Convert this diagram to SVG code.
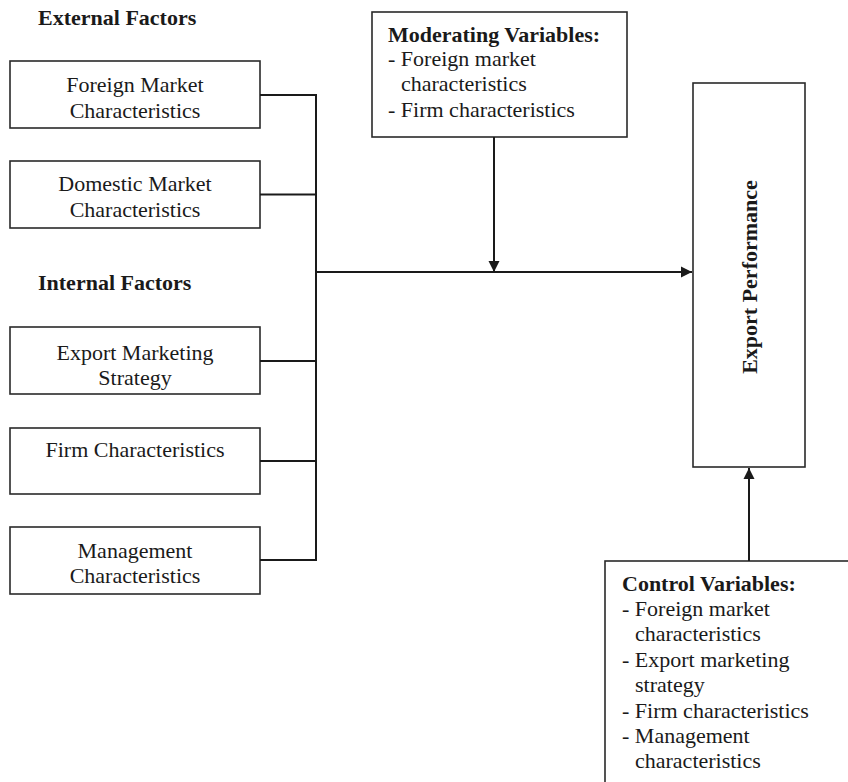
<svg xmlns="http://www.w3.org/2000/svg" width="848" height="782" viewBox="0 0 848 782">
<defs>
<marker id="arr" markerWidth="12" markerHeight="12" viewBox="0 0 12 12" refX="11" refY="6" orient="auto" markerUnits="userSpaceOnUse">
<path d="M0,0.5 L11,6 L0,11.5 Z" fill="#1a1a1a"/>
</marker>
<style>
.box{fill:#fff;stroke:#2a2a2a;stroke-width:1.6}
.t{font-family:"Liberation Serif","Times New Roman",serif;font-size:22px;fill:#1a1a1a}
.c{text-anchor:middle}
.b{font-weight:bold}
.ln{fill:none;stroke:#1a1a1a;stroke-width:2}
</style>
</defs>
<rect width="848" height="782" fill="#fff"/>
<text class="t b" x="38" y="25">External Factors</text>
<text class="t b" x="38" y="290">Internal Factors</text>
<g id="n1"><rect class="box" x="10" y="61" width="250" height="67"/><text class="t c" x="135" y="92">Foreign Market</text><text class="t c" x="135" y="118">Characteristics</text></g>
<g id="n2"><rect class="box" x="10" y="161" width="250" height="67"/><text class="t c" x="135" y="191">Domestic Market</text><text class="t c" x="135" y="217">Characteristics</text></g>
<g id="n3"><rect class="box" x="10" y="327" width="250" height="67"/><text class="t c" x="135" y="360">Export Marketing</text><text class="t c" x="135" y="385">Strategy</text></g>
<g id="n4"><rect class="box" x="10" y="428" width="250" height="66"/><text class="t c" x="135" y="457">Firm Characteristics</text></g>
<g id="n5"><rect class="box" x="10" y="527" width="250" height="67"/><text class="t c" x="135" y="558">Management</text><text class="t c" x="135" y="583">Characteristics</text></g>
<g id="mod"><rect class="box" x="372" y="12" width="255" height="125"/>
<text class="t b" x="388" y="42">Moderating Variables:</text>
<text class="t" x="388" y="66">- Foreign market</text>
<text class="t" x="401" y="91">characteristics</text>
<text class="t" x="388" y="117">- Firm characteristics</text></g>
<g id="ep"><rect class="box" x="693" y="83" width="112" height="384"/>
<text class="t b c" transform="translate(757,277) rotate(-90)">Export Performance</text></g>
<g id="ctrl"><rect class="box" x="605" y="561" width="250" height="240"/>
<text class="t b" x="622" y="591">Control Variables:</text>
<text class="t" x="622" y="616">- Foreign market</text>
<text class="t" x="635" y="641">characteristics</text>
<text class="t" x="622" y="667">- Export marketing</text>
<text class="t" x="635" y="692">strategy</text>
<text class="t" x="622" y="718">- Firm characteristics</text>
<text class="t" x="622" y="743">- Management</text>
<text class="t" x="635" y="768">characteristics</text></g>
<g id="connectors">
<path class="ln" d="M260,95 H316 M260,194.5 H316 M260,361 H316 M260,461 H316 M260,560 H316 M316,94 V561"/>
<path class="ln" d="M316,272 H692" marker-end="url(#arr)"/>
<path class="ln" d="M494,137 V272" marker-end="url(#arr)"/>
<path class="ln" d="M749,561 V468" marker-end="url(#arr)"/>
</g>
</svg>
